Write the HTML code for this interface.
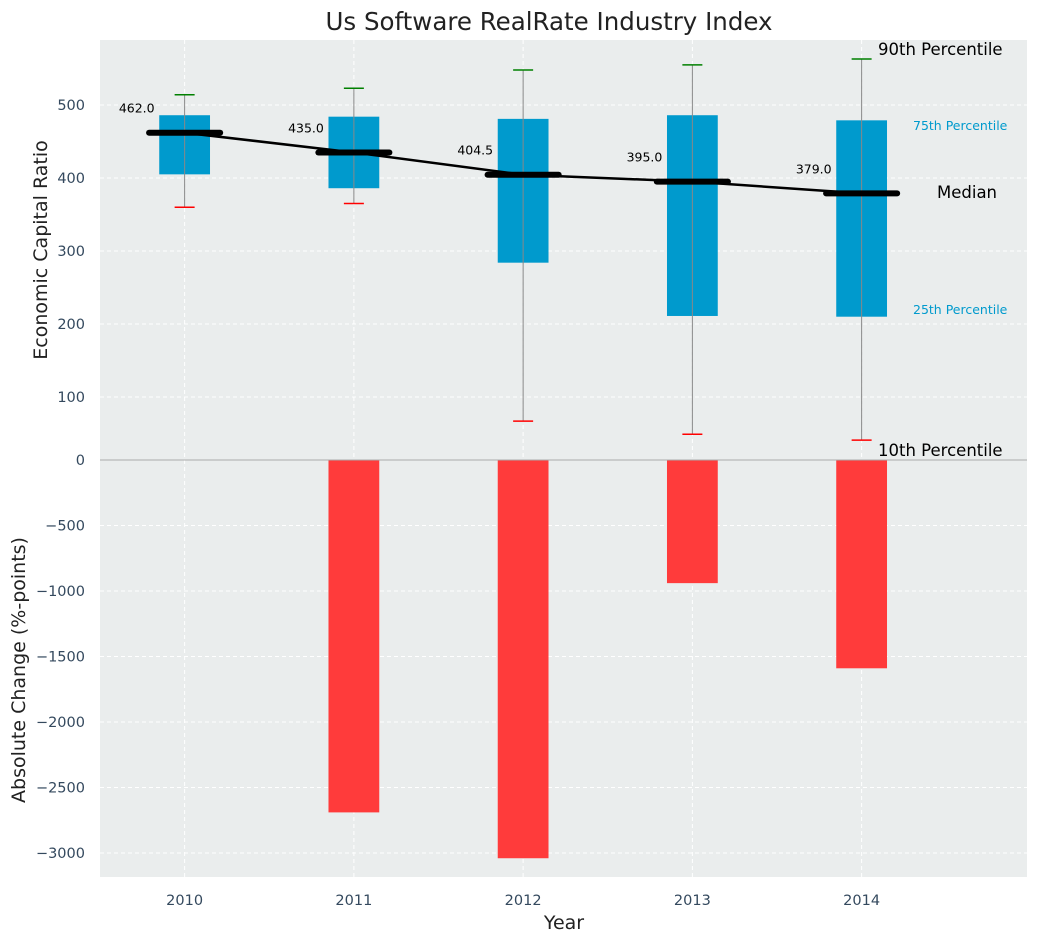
<!DOCTYPE html>
<html><head><meta charset="utf-8"><style>
body{margin:0;background:#fff;font-family:"Liberation Sans","DejaVu Sans",sans-serif}
svg text{font-family:"DejaVu Sans","Liberation Sans",sans-serif}
</style></head><body>
<svg id="c" width="1039" height="942" xmlns="http://www.w3.org/2000/svg"></svg>
<script>
const years=["2010","2011","2012","2013","2014"];
const p10=[360,365,67,49,41];
const p25=[405,386,284,211,210];
const med=[462,435,404.5,395,379];
const p75=[486,484,481,486,479];
const p90=[514,523,548,555,563];
const change=[0,-2690,-3040,-940,-1590];
const topTicks=[100,200,300,400,500];
const botTicks=[0,-500,-1000,-1500,-2000,-2500,-3000];

const NS="http://www.w3.org/2000/svg",svg=document.getElementById('c');
const L=100,R=1027,T=40,M=460,B=877;
const SP=169.25;
const x=i=>L+(i+0.5)*SP;
const yT=v=>470-v*0.73;
const yB=v=>M-v*0.131;
function el(t,a,p){const e=document.createElementNS(NS,t);for(const k in a)e.setAttribute(k,a[k]);(p||svg).appendChild(e);return e;}
function tx(s,a){const e=el('text',a);e.textContent=s;return e;}

let bg=el('rect',{x:L,y:T,width:R-L,height:B-T,fill:'#eaeded'});


topTicks.forEach(v=>{
 const g=el('line',{x1:L,x2:R,y1:yT(v),y2:yT(v),stroke:'#fff','stroke-dasharray':'4,3'});
 
 
 const t=tx(v,{x:L-15,y:yT(v)+5,'text-anchor':'end','font-size':14.5,fill:'#34495e'});
 
 
});
botTicks.forEach(v=>{
 if(v!==0){const g=el('line',{x1:L,x2:R,y1:yB(v),y2:yB(v),stroke:'#fff','stroke-dasharray':'4,3'});
 
 }
 const t=tx(v===0?'0':'\u2212'+(-v),{x:L-15,y:yB(v)+5,'text-anchor':'end','font-size':14.5,fill:'#34495e'});
 
 
});
for(let i=0;i<5;i++){const g=el('line',{x1:x(i),x2:x(i),y1:T,y2:B,stroke:'#fff','stroke-dasharray':'4,3'});
 
 }
const hw=SP*0.15, mw=SP*0.21;
years.forEach((yr,i)=>{
 const cx=x(i);
 if(change[i]!==0){const b=el('rect',{x:cx-hw,y:M,width:2*hw,height:yB(change[i])-M,fill:'#ff3b3b'});
 
 }
 const bx=el('rect',{x:cx-hw,y:yT(p75[i]),width:2*hw,height:yT(p25[i])-yT(p75[i]),fill:'#009acd'});
 
 
 const w=el('line',{x1:cx,x2:cx,y1:yT(p10[i]),y2:yT(p90[i]),stroke:'#888','stroke-width':1});
 
 
 const c1=el('line',{x1:cx-10,x2:cx+10,y1:yT(p90[i]),y2:yT(p90[i]),stroke:'green','stroke-width':1.5});
 
 
 const c2=el('line',{x1:cx-10,x2:cx+10,y1:yT(p10[i]),y2:yT(p10[i]),stroke:'red','stroke-width':1.5});
 
 
 const t=tx(med[i].toFixed(1),{x:cx-30,y:yT(med[i])-20,'text-anchor':'end','font-size':12.5,fill:'#000'});
 
 
 const xl=tx(yr,{x:cx,y:905,'text-anchor':'middle','font-size':14.5,fill:'#34495e'});
 
 
});
const ml=el('polyline',{points:med.map((v,i)=>x(i)+','+yT(v)).join(' '),fill:'none',stroke:'#000','stroke-width':2.5});


med.forEach((v,i)=>{const m=el('line',{x1:x(i)-mw,x2:x(i)+mw,y1:yT(v),y2:yT(v),stroke:'#000','stroke-width':6,'stroke-linecap':'round'});
 
 });
const zl=el('line',{x1:L,x2:R,y1:M,y2:M,stroke:'#aaa','stroke-width':1});


const ann=[["90th Percentile",878,55,16.5,'#000'],["75th Percentile",913,130,12.5,'#009acd'],["Median",937,198,16.5,'#000'],["25th Percentile",913,314,12.5,'#009acd'],["10th Percentile",878,456,16.5,'#000']];
ann.forEach(a=>{const t=tx(a[0],{x:a[1],y:a[2],'font-size':a[3],fill:a[4]});
 
 });
let t=tx('Us Software RealRate Industry Index',{x:549,y:30,'text-anchor':'middle','font-size':24.5,fill:'#222'});


t=tx('Year',{x:564,y:929,'text-anchor':'middle','font-size':19,fill:'#222'});


t=tx('Economic Capital Ratio',{x:47,y:250,'text-anchor':'middle','font-size':19,fill:'#222',transform:'rotate(-90 47 250)'});


t=tx('Absolute Change (%-points)',{x:25,y:670,'text-anchor':'middle','font-size':19,fill:'#222',transform:'rotate(-90 25 670)'});


</script>
</body></html>
